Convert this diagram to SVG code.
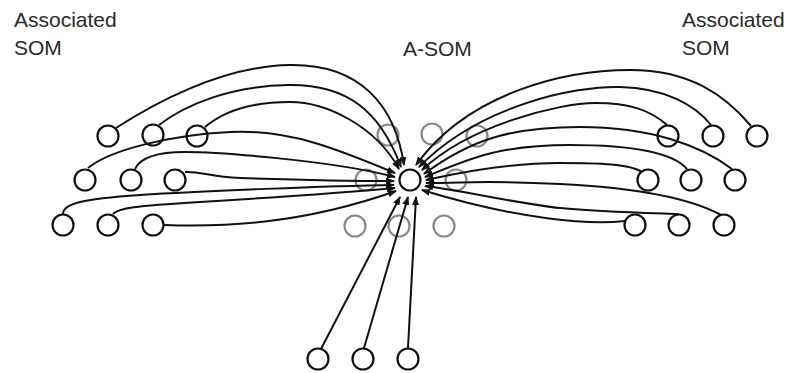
<svg xmlns="http://www.w3.org/2000/svg" width="789" height="373" viewBox="0 0 789 373">
<style>
.lbl{font-family:"Liberation Sans",Arial,sans-serif;font-size:21px;fill:#2a2a2a}
.n{fill:none;stroke:#111;stroke-width:2.2}
.g{fill:none;stroke:#888;stroke-width:2.2}
.c{fill:none;stroke:#111;stroke-width:2;marker-end:url(#ah)}
</style>
<defs>
<marker id="ah" markerUnits="userSpaceOnUse" markerWidth="9" markerHeight="7" refX="8" refY="3.5" orient="auto">
<path d="M0,0 L9,3.5 L0,7 z" fill="#111"/>
</marker>
</defs>
<rect width="789" height="373" fill="#fff"/>
<g id="labels">
<text class="lbl" x="14" y="27">Associated</text>
<text class="lbl" x="14" y="55">SOM</text>
<text class="lbl" x="403" y="56">A-SOM</text>
<text class="lbl" x="682" y="27">Associated</text>
<text class="lbl" x="682" y="55">SOM</text>
</g>
<g id="asom-grid">
<circle class="g" cx="388" cy="135" r="10.5"/>
<circle class="g" cx="432" cy="134" r="10.5"/>
<circle class="g" cx="477" cy="136" r="10.5"/>
<circle class="g" cx="366" cy="180" r="10.5"/>
<circle class="g" cx="456" cy="180" r="10.5"/>
<circle class="g" cx="355" cy="226" r="10.5"/>
<circle class="g" cx="399" cy="226" r="10.5"/>
<circle class="g" cx="444" cy="226" r="10.5"/>
</g>
<g id="connectors">
<path class="c" d="M116,128 C150,106 220,66 290,65 S395,105 404,165"/>
<path class="c" d="M159,125 C185,105 230,86 288,85 S380,110 401,167"/>
<path class="c" d="M205,127 C225,110 255,102 290,102 S375,125 399,169"/>
<path class="c" d="M88,168 C110,150 170,135 230,132 S340,150 395,173"/>
<path class="c" d="M135,169 C140,158 155,152 185,152 S330,160 395,177"/>
<path class="c" d="M185,172 C200,171 210,177 240,178 S350,181 394,181"/>
<path class="c" d="M63,214 C63,204 80,199 140,195 S330,186 394,185"/>
<path class="c" d="M113,214 C118,208 135,206 200,202 S340,193 395,188"/>
<path class="c" d="M164,225 C220,227 300,225 396,191"/>
<path class="c" d="M751,126 C725,95 690,70 630,70 S470,90 416,165"/>
<path class="c" d="M711,125 C695,105 665,88 620,87 S480,105 419,167"/>
<path class="c" d="M667,125 C650,110 630,103 595,103 S470,125 422,170"/>
<path class="c" d="M732,169 C700,145 650,127 580,127 S470,140 424,174"/>
<path class="c" d="M687,169 C675,155 640,145 570,145 S470,158 425,177"/>
<path class="c" d="M642,172 C630,164 600,163 560,163 S470,170 426,180"/>
<path class="c" d="M721,215 C690,198 640,188 560,184 S470,183 426,183"/>
<path class="c" d="M679,214 C650,213 600,212 560,208 S460,190 425,186"/>
<path class="c" d="M625,221 C590,225 520,220 422,190"/>
<path class="c" d="M321,349 L400,197"/>
<path class="c" d="M364,348 L408,197"/>
<path class="c" d="M408,348 L416,197"/>
</g>
<g id="asom"><circle class="n" cx="410" cy="180" r="10.5" stroke-width="2.6"/></g>
<g id="left-1"><circle class="n" cx="108" cy="136" r="10.5"/></g>
<g id="left-2"><circle class="n" cx="153" cy="135" r="10.5"/></g>
<g id="left-3"><circle class="n" cx="197" cy="136" r="10.5"/></g>
<g id="left-4"><circle class="n" cx="85" cy="180" r="10.5"/></g>
<g id="left-5"><circle class="n" cx="131" cy="180" r="10.5"/></g>
<g id="left-6"><circle class="n" cx="175" cy="180" r="10.5"/></g>
<g id="left-7"><circle class="n" cx="63" cy="225" r="10.5"/></g>
<g id="left-8"><circle class="n" cx="108" cy="225" r="10.5"/></g>
<g id="left-9"><circle class="n" cx="153" cy="225" r="10.5"/></g>
<g id="right-1"><circle class="n" cx="668" cy="136" r="10.5"/></g>
<g id="right-2"><circle class="n" cx="713" cy="136" r="10.5"/></g>
<g id="right-3"><circle class="n" cx="757" cy="136" r="10.5"/></g>
<g id="right-4"><circle class="n" cx="648" cy="180" r="10.5"/></g>
<g id="right-5"><circle class="n" cx="691" cy="180" r="10.5"/></g>
<g id="right-6"><circle class="n" cx="735" cy="180" r="10.5"/></g>
<g id="right-7"><circle class="n" cx="635" cy="225" r="10.5"/></g>
<g id="right-8"><circle class="n" cx="679" cy="225" r="10.5"/></g>
<g id="right-9"><circle class="n" cx="724" cy="225" r="10.5"/></g>
<g id="bottom-1"><circle class="n" cx="318" cy="359" r="10.5"/></g>
<g id="bottom-2"><circle class="n" cx="363" cy="359" r="10.5"/></g>
<g id="bottom-3"><circle class="n" cx="408" cy="359" r="10.5"/></g>
</svg>
